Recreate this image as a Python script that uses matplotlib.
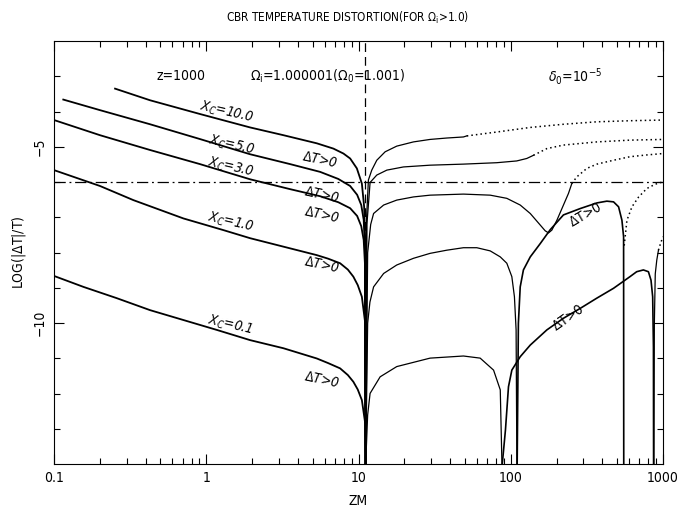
import numpy as np
import matplotlib
matplotlib.use("Agg")
import matplotlib.pyplot as plt
from matplotlib.ticker import LogLocator, FixedLocator, NullFormatter, FixedFormatter

plt.rcParams['font.family'] = ['DejaVu Sans']
plt.rcParams['font.stretch'] = 'condensed'
plt.rcParams['mathtext.fontset'] = 'custom'
plt.rcParams['mathtext.rm'] = 'DejaVu Sans:stretch=condensed'
plt.rcParams['mathtext.it'] = 'DejaVu Sans:italic:stretch=condensed'
plt.rcParams['mathtext.sf'] = 'DejaVu Sans:stretch=condensed'

# values: log10(ZM) and LOG(|dT|/T)
xc10_left_lz = [-0.599, -0.369, -0.041, 0.288, 0.507, 0.726, 0.835, 0.901, 0.945, 0.989, 1.022, 1.037, 1.044, 1.046]
xc10_left_y = [-3.35, -3.68, -4.07, -4.45, -4.67, -4.90, -5.05, -5.19, -5.33, -5.61, -6.04, -6.70, -7.64, -14.0]
xc10_right_lz = [1.047, 1.053, 1.065, 1.087, 1.120, 1.175, 1.251, 1.361, 1.470, 1.580, 1.689, 1.711]
xc10_right_y = [-14.0, -7.0, -5.94, -5.66, -5.38, -5.14, -4.98, -4.86, -4.79, -4.75, -4.72, -4.69]
xc10_dot_lz = [1.711, 1.908, 2.128, 2.346, 2.566, 2.783, 3.0]
xc10_dot_y = [-4.69, -4.58, -4.45, -4.36, -4.29, -4.26, -4.24]

xc5_left_lz = [-0.939, -0.698, -0.369, -0.041, 0.288, 0.551, 0.748, 0.867, 0.945, 0.991, 1.018, 1.034, 1.042, 1.046]
xc5_left_y = [-3.66, -3.96, -4.36, -4.78, -5.21, -5.49, -5.71, -5.91, -6.11, -6.36, -6.65, -7.07, -7.9, -14.0]
xc5_right_lz = [1.047, 1.055, 1.076, 1.120, 1.186, 1.295, 1.470, 1.689, 1.908, 2.039, 2.105, 2.149]
xc5_right_y = [-14.0, -7.2, -6.01, -5.80, -5.66, -5.57, -5.52, -5.49, -5.45, -5.40, -5.33, -5.24]
xc5_dot_lz = [2.149, 2.237, 2.346, 2.566, 2.783, 3.0]
xc5_dot_y = [-5.24, -5.05, -4.95, -4.86, -4.81, -4.79]

xc3_left_lz = [-1.0, -0.698, -0.369, -0.041, 0.288, 0.551, 0.748, 0.867, 0.945, 0.991, 1.018, 1.034, 1.042, 1.046]
xc3_left_y = [-4.24, -4.67, -5.09, -5.49, -5.92, -6.20, -6.40, -6.57, -6.74, -6.96, -7.25, -7.64, -8.3, -14.0]
xc3_right_lz = [1.047, 1.06, 1.08, 1.099, 1.165, 1.251, 1.361, 1.470, 1.689, 1.865, 1.974, 2.062, 2.128,
                2.194, 2.226, 2.248, 2.270, 2.303, 2.346, 2.379, 2.401]
xc3_right_y = [-14.0, -8.0, -7.2, -6.89, -6.65, -6.51, -6.42, -6.37, -6.34, -6.37, -6.46, -6.65, -6.89,
               -7.22, -7.38, -7.44, -7.36, -7.08, -6.65, -6.32, -6.04]
xc3_dot_lz = [2.401, 2.434, 2.500, 2.566, 2.675, 2.783, 2.893, 3.0]
xc3_dot_y = [-6.04, -5.85, -5.61, -5.49, -5.38, -5.28, -5.23, -5.19]

xc1_left_lz = [-1.0, -0.698, -0.479, -0.150, 0.112, 0.288, 0.507, 0.726, 0.80, 0.879, 0.93, 0.966, 0.995,
               1.022, 1.044, 1.046]
xc1_left_y = [-5.66, -6.11, -6.51, -7.03, -7.36, -7.59, -7.83, -8.07, -8.17, -8.30, -8.48, -8.68, -8.92,
              -9.25, -10.0, -14.0]
xc1_mid_lz = [1.047, 1.06, 1.075, 1.099, 1.165, 1.251, 1.361, 1.470, 1.580, 1.689, 1.777, 1.865, 1.931,
              1.974, 2.007, 2.024, 2.035, 2.040]
xc1_mid_y = [-14.0, -10.0, -9.4, -8.97, -8.59, -8.35, -8.16, -8.02, -7.93, -7.86, -7.86, -7.95, -8.12,
             -8.30, -8.68, -9.25, -10.19, -14.0]
xc1_pos_lz = [2.042, 2.050, 2.062, 2.083, 2.128, 2.194, 2.259, 2.346, 2.456, 2.566, 2.631, 2.675, 2.708,
              2.730, 2.741, 2.742]
xc1_pos_y = [-14.0, -10.0, -8.97, -8.49, -8.12, -7.74, -7.35, -6.93, -6.75, -6.59, -6.54, -6.56, -6.70,
             -7.08, -7.55, -14.0]
xc1_dot_lz = [2.745, 2.763, 2.796, 2.840, 2.894, 2.949, 3.0]
xc1_dot_y = [-7.8, -7.08, -6.70, -6.42, -6.18, -6.06, -5.99]

xc01_left_lz = [-1.0, -0.807, -0.588, -0.369, -0.150, 0.069, 0.288, 0.507, 0.726, 0.80, 0.879, 0.93, 0.966,
                0.995, 1.022, 1.044, 1.046]
xc01_left_y = [-8.66, -8.97, -9.29, -9.63, -9.91, -10.19, -10.48, -10.71, -11.00, -11.13, -11.28, -11.47,
               -11.66, -11.88, -12.18, -12.84, -14.0]
xc01_mid_lz = [1.047, 1.06, 1.076, 1.142, 1.251, 1.470, 1.689, 1.799, 1.887, 1.931, 1.942]
xc01_mid_y = [-14.0, -12.6, -11.99, -11.52, -11.23, -10.99, -10.93, -10.99, -11.33, -11.89, -14.0]
xc01_pos_lz = [1.944, 1.965, 1.985, 2.007, 2.062, 2.128, 2.237, 2.346, 2.456, 2.565, 2.675, 2.783, 2.827,
               2.871, 2.904, 2.921, 2.932, 2.937, 2.938]
xc01_pos_y = [-14.0, -13.03, -11.80, -11.33, -10.95, -10.62, -10.19, -9.86, -9.58, -9.29, -9.01, -8.68, -8.54,
              -8.49, -8.54, -8.78, -9.25, -10.67, -14.0]
xc01_end_lz = [2.940, 2.943, 2.949, 2.959, 2.970]
xc01_end_y = [-14.0, -10.0, -8.6, -8.21, -7.93]
xc01_dot_lz = [2.970, 2.985, 3.0]
xc01_dot_y = [-7.93, -7.72, -7.55]

zm_zero = 11.0      # dashed vertical
log_limit = -6.0    # dash-dot horizontal

fig = plt.figure(figsize=(6.95, 5.14), dpi=100)
ax = fig.add_axes([0.0777, 0.0967, 0.8763, 0.8235])

def seg(lz, y, ls='-', lw=1.0):
    ax.plot(10 ** np.array(lz), y, color='black', ls=ls, lw=lw)

# left branches
for lz, y in [(xc10_left_lz, xc10_left_y), (xc5_left_lz, xc5_left_y), (xc3_left_lz, xc3_left_y),
              (xc1_left_lz, xc1_left_y), (xc01_left_lz, xc01_left_y)]:
    seg(lz, y, lw=1.3)
# right branches
for lz, y in [(xc10_right_lz, xc10_right_y), (xc5_right_lz, xc5_right_y), (xc3_right_lz, xc3_right_y),
              (xc1_mid_lz, xc1_mid_y), (xc01_mid_lz, xc01_mid_y), (xc01_end_lz, xc01_end_y)]:
    seg(lz, y, lw=0.9)
seg(xc1_pos_lz, xc1_pos_y, lw=1.2)
seg(xc01_pos_lz, xc01_pos_y, lw=1.2)
# dotted tails
for lz, y in [(xc10_dot_lz, xc10_dot_y), (xc5_dot_lz, xc5_dot_y), (xc3_dot_lz, xc3_dot_y),
              (xc1_dot_lz, xc1_dot_y), (xc01_dot_lz, xc01_dot_y)]:
    seg(lz, y, ls=(0, (1, 2.0)), lw=1.1)

ax.axvline(zm_zero, color='black', lw=0.9, ls=(0, (7, 4)))
ax.axhline(log_limit, color='black', lw=0.9, ls=(0, (9, 3, 1.5, 3)))

ax.set_xscale('log')
ax.set_xlim(0.1, 1000)
ax.set_ylim(-14, -2)
ax.xaxis.set_major_locator(FixedLocator([0.1, 1, 10, 100, 1000]))
ax.xaxis.set_major_formatter(FixedFormatter(['0.1', '1', '10', '100', '1000']))
ax.xaxis.set_minor_locator(LogLocator(base=10, subs=np.arange(2, 10), numticks=20))
ax.xaxis.set_minor_formatter(NullFormatter())
ax.yaxis.set_major_locator(FixedLocator([-10, -5]))
ax.yaxis.set_major_formatter(FixedFormatter(['\u221210', '\u22125']))
ax.yaxis.set_minor_locator(FixedLocator(np.arange(-13, -2)))
ax.tick_params(which='both', direction='in', top=True, right=True, labelsize=10, width=0.8)
ax.tick_params(which='major', length=7)
ax.tick_params(which='minor', length=4)
ax.tick_params(axis='x', pad=5)
ax.tick_params(axis='y', pad=5)
for lab in ax.get_yticklabels():
    lab.set_rotation(90)
    lab.set_va('center')
for s in ax.spines.values():
    s.set_linewidth(0.8)

ax.set_xlabel('ZM', fontsize=10, labelpad=6)
ax.set_ylabel(r'LOG(|$\Delta$T|/T)', fontsize=10, labelpad=4)
fig.suptitle(r'CBR TEMPERATURE DISTORTION(FOR $\Omega_{\rm i}$>1.0)', fontsize=8.5, y=0.98)

ax.text(0.68, -3.0, 'z=1000', fontsize=10, ha='center', va='center')
ax.text(6.3, -3.0, r'$\Omega_{\rm i}$=1.000001($\Omega_{\rm 0}$=1.001)', fontsize=10, ha='center', va='center')
ax.text(265, -3.0, r'$\delta_{\rm 0}$=10$^{-5}$', fontsize=10, ha='center', va='center')

rot = -13
for zm, y, txt in [(1.37, -4.02, '10.0'), (1.48, -4.95, '5.0'), (1.44, -5.57, '3.0'),
                   (1.44, -7.13, '1.0'), (1.44, -10.05, '0.1')]:
    ax.text(zm, y, r'$X_C$=' + txt, fontsize=10, style='italic', rotation=rot,
            ha='center', va='center', rotation_mode='anchor')
for zm, y in [(5.6, -5.38), (5.7, -6.37), (5.7, -6.93), (5.7, -8.35), (5.7, -11.61)]:
    ax.text(zm, y, r'$\Delta T$>0', fontsize=10, style='italic', rotation=-12,
            ha='center', va='center', rotation_mode='anchor')
ax.text(308, -6.93, r'$\Delta$T>0', fontsize=10, rotation=30, ha='center', va='center', rotation_mode='anchor')
ax.text(238, -9.85, r'$\Delta$T>0', fontsize=10, rotation=35, ha='center', va='center', rotation_mode='anchor')

fig.savefig('out.png', dpi=100)
